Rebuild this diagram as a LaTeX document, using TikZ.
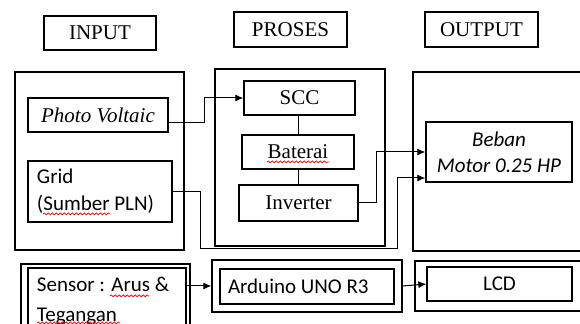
\documentclass[tikz,border=0pt]{standalone}
\usepackage{fontspec}
\setmainfont{Liberation Serif}
\newfontfamily\cbr{Carlito}
\usetikzlibrary{arrows.meta,decorations.pathmorphing}

\begin{document}
\begin{tikzpicture}[
  x=0.5pt, y=-0.5pt,
  box/.style={draw, line width=0.65pt, inner sep=0pt, align=center},
  tnr/.style={font=\fontsize{10.5}{13}\selectfont},
  cal/.style={font=\cbr\fontsize{10.5}{13.5}\selectfont},
  arr/.style={-{Latex[length=4pt,width=3.5pt]}, line width=0.5pt},
  wavy/.style={draw=red, line width=0.35pt, decorate,
               decoration={snake, amplitude=0.5pt, segment length=2pt}},
]
\useasboundingbox (0,0) rectangle (580,324);

% ---- headings ----
\node[box,tnr,minimum width=56pt,minimum height=17pt]     (IN)  at (100,33)     {INPUT};
\node[box,tnr,minimum width=56.5pt,minimum height=17.5pt] (PR)  at (290.5,29.5) {PROSES};
\node[box,tnr,minimum width=56.5pt,minimum height=17.5pt] (OUT) at (481.5,29.5) {OUTPUT};

% ---- group frames ----
\node[box,minimum width=84.5pt,minimum height=89pt]   (INbox)  at (99.5,161)   {};
\node[box,minimum width=85pt,minimum height=88.5pt]   (PRbox)  at (300,157.5)  {};
\node[box,minimum width=88.5pt,minimum height=89.5pt] (OUTbox) at (501.5,161.5) {};

% ---- input ----
\node[box,tnr,minimum width=70pt,minimum height=17pt] (PV) at (98,115) {\itshape Photo Voltaic};
\node[box,cal,text width=63pt,inner xsep=4.5pt,minimum height=30.5pt,align=flush left]
  (GRID) at (100,191.5) {Grid\\(Sumber PLN)};

% ---- proses ----
\node[box,tnr,minimum width=55.5pt,minimum height=17pt] (SCC) at (299.5,98)  {SCC};
\node[box,tnr,minimum width=56pt,minimum height=17pt]   (BAT) at (298,152)   {Baterai};
\node[box,tnr,minimum width=59.5pt,minimum height=18pt] (INV) at (298.5,203) {Inverter};

% ---- output ----
\node[box,cal,font=\cbr\itshape\fontsize{10.5}{13}\selectfont,minimum width=73pt,minimum height=30pt]
  (BEBAN) at (499,152) {Beban\\Motor 0.25 HP};

% ---- bottom row ----
\node[box,minimum width=84.5pt,minimum height=40pt] (SENSout) at (105.5,304) {};
\node[box,font=\cbr\fontsize{10.5}{15}\selectfont,text width=70pt,inner xsep=4.5pt,minimum height=33pt,align=flush left]
  (SENSin) at (107,301) {Sensor : Arus \&\\Tegangan};
\node[box,minimum width=95pt,minimum height=26pt] (ARDout) at (307,286) {};
\node[box,cal,text width=79pt,inner xsep=4pt,minimum height=17.5pt,align=flush left]
  (ARDin) at (307,286.5) {Arduino UNO R3};
\node[box,minimum width=87.5pt,minimum height=25pt] (LCDout) at (502.5,286) {};
\node[box,cal,minimum width=72.5pt,minimum height=17pt] (LCDin) at (499.5,284) {LCD};

% ---- connectors ----
\draw[arr] ([yshift=-4pt]PV.east) -- ++(36,0) |- (SCC.west);
\draw[line width=0.5pt] (BAT.north) -- (BAT.north |- SCC.south);
\draw[line width=0.5pt] (BAT.south) -- (BAT.south |- INV.north);
\draw[arr] (INV.east) -- ++(18,0) |- (BEBAN.west);
\draw[arr] (GRID.east) -- ++(28,0) -- ++(0,57.5) -- ++(197,0) |- ([yshift=-13pt]BEBAN.west);
\draw[arr] (SENSin.east |- ARDout.west) -- (ARDout.west);
\draw[arr] (ARDout.east) -- (LCDin.west);

% ---- spelling marks ----
\draw[wavy] (267,162) -- (329,162);
\draw[wavy] (43,214) -- (110,214);
\draw[wavy] (110,296) -- (149,296);
\draw[wavy] (37,323) -- (120,323);

\end{tikzpicture}
\end{document}
